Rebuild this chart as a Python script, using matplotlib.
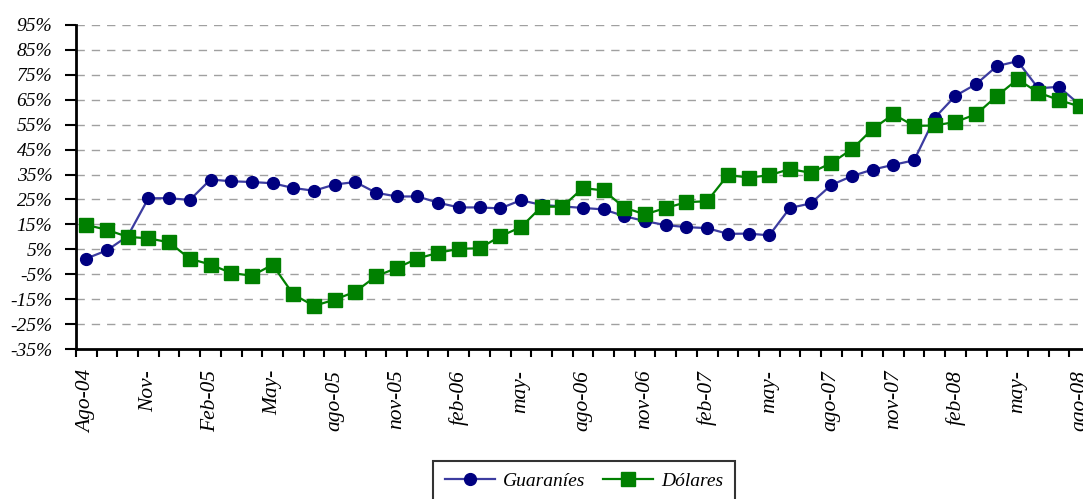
import matplotlib
matplotlib.use("Agg")
import matplotlib.pyplot as plt
import numpy as np

# monthly series, Ago-04 .. Ago-08 (49 months)
guaranies = [1.3, 4.6, 10.3, 25.5, 25.5, 24.8, 33.0, 32.3, 32.0, 31.5,
             29.6, 28.5, 31.0, 32.0, 27.7, 26.2, 26.2, 23.7, 21.8, 21.8,
             21.4, 24.7, 22.8, 22.2, 21.6, 21.0, 18.3, 16.3, 14.7, 13.9,
             13.5, 11.2, 11.3, 10.6, 21.6, 23.4, 30.8, 34.4, 37.0, 38.9,
             40.7, 57.8, 66.6, 71.3, 78.5, 80.5, 69.6, 70.2, 63.0]
dolares = [14.8, 12.8, 10.0, 9.4, 7.8, 1.2, -1.1, -4.5, -5.6, -1.2,
           -13.1, -17.7, -15.2, -12.0, -5.8, -2.5, 1.3, 3.6, 5.2, 5.4,
           10.2, 13.9, 22.1, 22.1, 29.6, 28.6, 21.7, 19.0, 21.6, 23.9,
           24.3, 34.8, 33.8, 34.7, 37.2, 35.7, 39.6, 45.2, 53.3, 59.2,
           54.5, 54.7, 56.1, 59.2, 66.5, 73.2, 67.9, 64.9, 62.3]
month_labels = ["Ago-04", "Nov-", "Feb-05", "May-", "ago-05", "nov-05",
                "feb-06", "may-", "ago-06", "nov-06", "feb-07", "may-",
                "ago-07", "nov-07", "feb-08", "may-", "ago-08"]
y_ticks = [-35, -25, -15, -5, 5, 15, 25, 35, 45, 55, 65, 75, 85, 95]

font = "Liberation Serif"
plt.rcParams["font.family"] = font

fig = plt.figure(figsize=(10.83, 4.99), dpi=100)
ax = fig.add_axes([76 / 1083, 150 / 499, 1014 / 1083, 324 / 499])

x = np.arange(len(guaranies))
ax.plot(x, guaranies, color="#3c3ca0", lw=1.6, marker="o", ms=8.5,
        mfc="#000080", mec="#000080", label="Guaraníes", zorder=3)
ax.plot(x, dolares, color="#008000", lw=1.6, marker="s", ms=9.5,
        mfc="#008000", mec="#008000", label="Dólares", zorder=3)

ax.set_xlim(-0.5, len(x) - 0.5)
ax.set_ylim(-35, 95)

ax.set_yticks(y_ticks)
ax.set_yticklabels([f"{v}%" for v in y_ticks], fontstyle="italic", fontsize=14)
for v in y_ticks[1:]:
    ax.axhline(v, color="#a0a0a0", lw=1.0, dashes=(6, 5), zorder=1)

# boundary ticks between months, labels every 3 months
ax.set_xticks(np.arange(len(x) + 1) - 0.5, minor=True)
ax.set_xticks(x[::3])
ax.set_xticklabels(month_labels, rotation=90, fontstyle="italic", fontsize=15.5)
ax.tick_params(axis="x", which="major", length=0, pad=15)
ax.tick_params(axis="x", which="minor", length=6, width=1.5, direction="out")
ax.tick_params(axis="y", length=8, width=1.5, direction="out", pad=9)

for s in ["top", "right"]:
    ax.spines[s].set_visible(False)
for s in ["left", "bottom"]:
    ax.spines[s].set_linewidth(2)

leg = ax.legend(loc="upper left", bbox_to_anchor=(433 / 1083, 38 / 499),
                bbox_transform=fig.transFigure, ncol=2, frameon=True,
                fancybox=False, borderaxespad=0, handlelength=2.6,
                handletextpad=0.4, columnspacing=0.9, borderpad=0.6,
                prop={"family": font, "style": "italic", "size": 14})
leg.get_frame().set_edgecolor("black")
leg.get_frame().set_linewidth(1.5)

fig.savefig("out.png", dpi=100)
